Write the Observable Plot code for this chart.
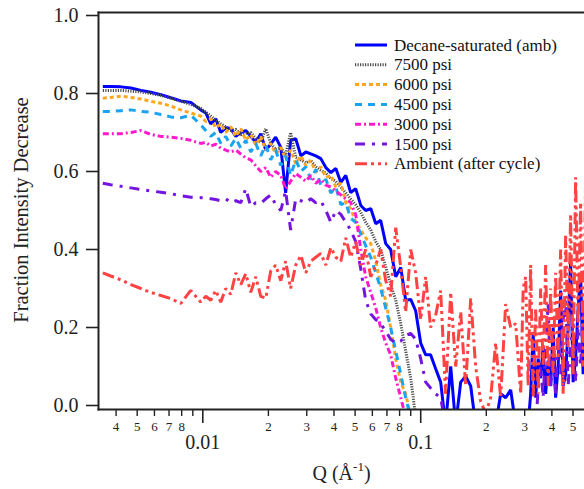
<!DOCTYPE html>
<html><head><meta charset="utf-8">
<script src="https://cdn.jsdelivr.net/npm/d3@7"></script>
<script src="https://cdn.jsdelivr.net/npm/@observablehq/plot@0.6"></script>
<style>body{margin:0;background:#fff}#chart{width:584px;height:489px}
#chart svg, #chart svg text{font-family:'Liberation Serif','Times New Roman',serif !important}</style>
</head><body><div id="chart"></div>
<script>
// Q grid (Å^-1)
const q = [
0.003477,0.00378,0.00421,0.00468,0.00520,0.00577,0.00642,0.00713,0.00793,0.00881,0.00979,
0.01032,0.01088,0.01147,0.01209,0.01275,0.01344,0.01417,0.01494,0.01575,0.0166,
0.0175,0.01845,0.01945,0.0205,0.0216,0.0228,0.0240,0.0253,0.0267,0.0282,
0.0297,0.0313,0.0330,0.0348,0.0367,0.0387,0.0408,0.0430,0.0453,0.0477,
0.0503,0.0531,0.0559,0.0590,0.0622,0.0655,0.0691,0.0728,0.0768,0.0810,
0.0853,0.0900,0.0948,0.1000,
0.1054,0.111,0.117,0.1235,0.130,0.1373,0.1447,0.1526,0.1608,0.1696,
0.1787,0.1885,0.1987,0.2095,0.2208,0.2328,0.2454,0.2588,0.2728,0.2876,
0.2953,0.3032,0.3113,0.3196,0.3282,0.3369,0.3459,0.3552,0.3647,0.3744,
0.3844,0.3947,0.4053,0.4161,0.4272,0.4387,0.4504,0.4625,0.4748,0.4875,
0.5006,0.514,0.5277,0.5418,0.5563,0.571];

const decane = [
.818,.818,.817,.814,.808,.803,.797,.789,.781,.777,.758,
.750,.722,.735,.700,.712,.710,.690,.700,.705,.690,
.675,.697,.655,.670,.688,.662,.545,.680,.684,.640,
.650,.645,.640,.633,.610,.597,.608,.572,.590,.546,
.556,.513,.500,.505,.466,.475,.415,.400,.330,.354,
.270,.272,.243,.160,
.13,.13,.095,.06,-.05,.10,-.05,.06,.075,.05,
-.05,-.05,-.05,-.05,-.05,.03,.02,.04,-.05,-.05,
-.05,-.05,-.05,.03,.185,.02,.12,.07,.15,.03,
.115,.05,.20,.02,.10,.295,.05,.08,.20,.37,
.06,.12,.25,.34,.08,.30];

const p7500 = [
.808,.808,.808,.806,.804,.800,.795,.788,.780,.772,.762,
.752,.742,.732,.722,.715,.705,.708,.695,.698,.700,
.685,.675,.710,.672,.656,.660,.642,.700,.636,.630,
.622,.628,.612,.603,.596,.582,.575,.560,.545,.530,
.515,.495,.470,.450,.420,.400,.355,.310,.270,.210,
.140,.070,-.030,-.060];

const p6000 = [
.788,.790,.793,.790,.786,.780,.775,.768,.758,.750,.742,
.728,.735,.712,.722,.700,.715,.690,.710,.680,.695,
.668,.690,.655,.672,.645,.662,.632,.655,.620,.640,
.615,.628,.598,.612,.585,.590,.560,.570,.520,.505,
.470,.450,.430,.415,.370,.310,.270,.200,.120,.060,
.030,-.030,-.050,-.060];

const p4500 = [
.754,.754,.756,.758,.754,.752,.746,.740,.738,.744,.720,
.705,.690,.700,.672,.690,.665,.685,.660,.680,.650,
.672,.640,.668,.630,.655,.615,.640,.590,.630,.600,
.612,.580,.605,.565,.580,.545,.560,.515,.520,.480,
.470,.440,.410,.380,.340,.300,.250,.200,.140,.080,
.020,-.030,-.050,-.060];

const p3000 = [
.697,.697,.697,.700,.705,.695,.690,.688,.685,.680,.672,
.675,.665,.670,.660,.655,.650,.655,.645,.635,.630,
.615,.600,.610,.585,.600,.590,.555,.575,.595,.585,
.575,.590,.570,.580,.565,.560,.550,.540,.530,.520,
.490,.400,.330,.290,.250,.200,.160,.130,.070,.020,
-.030,-.050,-.050,-.060];

const p1500 = [
.570,.566,.562,.558,.554,.550,.547,.543,.538,.534,.533,
.532,.530,.528,.525,.530,.520,.525,.520,.556,.510,
.520,.518,.530,.540,.515,.500,.550,.450,.530,.525,
.520,.530,.520,.525,.500,.470,.500,.490,.470,.450,
.420,.350,.270,.235,.220,.210,.190,.170,.160,.165,
.180,.185,.170,.120,
.060,.045,.030,.020,-.05,-.05,-.05,-.05,-.05,-.05,
-.05,-.05,-.05,-.05,-.05,-.05,-.05,-.05,-.05,-.05,
-.05,-.05,-.05,-.05,-.05,-.05,.04,.10,.02,.15,
.26,.05,.12,.03,.18,.08,.22,.27,.05,.15,
.21,.06,.20,.10,.25,.12];

const ambient = [
.340,.332,.322,.310,.300,.290,.282,.274,.262,.295,.265,
.280,.270,.295,.265,.300,.285,.340,.310,.338,.290,
.330,.280,.275,.345,.360,.320,.370,.300,.360,.385,
.340,.370,.380,.390,.360,.405,.380,.370,.430,.380,
.420,.360,.400,.330,.360,.400,.320,.280,.456,.354,
.240,.400,.340,.220,
.330,.200,.230,.295,.030,.290,.100,.240,.050,.275,
.100,.010,-.020,.020,.160,.020,.260,.200,.210,.030,
.300,.330,.050,.360,.020,.250,.030,.300,.100,.360,
.050,.300,.080,.340,.120,.400,.030,.440,.150,.490,
.080,.585,.200,.520,.100,.580];

const seriesNames = ["Decane-saturated (amb)","7500 psi","6000 psi","4500 psi","3000 psi","1500 psi","Ambient (after cycle)"];
const seriesValues = [decane,p7500,p6000,p4500,p3000,p1500,ambient];
const colors = ["#0000ff","#4d4d4d","#ffa520","#1aa3f0","#ff19cc","#7414e0","#ff4242"];
const dashes = ["none","1.2,1.3","4,3","7,6","6,3,2,3","10,7,3,7","12,4,3,4,3,4"];

const yTicks = [0,0.2,0.4,0.6,0.8,1.0];
const xMajorTicks = [0.01,0.1];
const xMajorLabels = ["0.01","0.1"];
const xMinorTicks = [0.004,0.005,0.006,0.007,0.008,0.009,0.02,0.03,0.04,0.05,0.06,0.07,0.08,0.09,0.2,0.3,0.4,0.5];
const xMinorLabels = ["4","5","6","7","8","","2","3","4","5","6","7","8","","2","3","4","5"];
const xDomain = [0.003322,0.5645];

const W=584,H=489,mL=98,mR=0,mT=12,mB=80;
const font = "'Liberation Serif', 'Times New Roman', serif";

const lineMarks = seriesNames.map((name,i)=>{
  const d = seriesValues[i].map((v,j)=>({q:q[j],v}));
  return Plot.line(d,{x:"q",y:"v",stroke:colors[i],strokeWidth:3,
    strokeDasharray:dashes[i]==="none"?undefined:dashes[i],clip:true,strokeLinejoin:"miter",strokeLinecap:"butt"});
});

const minorData = xMinorTicks.map((t,i)=>({t,label:xMinorLabels[i]}));
const majorData = xMajorTicks.map((t,i)=>({t,label:xMajorLabels[i]}));

const svg = Plot.plot({
  width:W,height:H,marginLeft:mL,marginRight:mR,marginTop:mT,marginBottom:mB,
  style:{fontFamily:font,color:"#222",background:"#fff"},
  x:{type:"log",domain:xDomain,label:null},
  y:{domain:[0,1],range:[405,15],label:null},
  marks:[
    ...lineMarks,
    Plot.axisY(yTicks,{tickSize:12,tickPadding:8,tickFormat:d3.format(".1f"),fontSize:20,fontFamily:font,strokeWidth:1.6,label:null}),
    Plot.axisX(xMinorTicks,{tickSize:7,tickFormat:()=>"",strokeWidth:1.4,label:null}),
    Plot.axisX(xMajorTicks,{tickSize:14,tickFormat:()=>"",strokeWidth:1.6,label:null}),
    Plot.text(minorData,{x:"t",text:"label",frameAnchor:"bottom",lineAnchor:"middle",dy:17.3,fontSize:13,fontFamily:font,fill:"#222"}),
    Plot.text(majorData,{x:"t",text:"label",frameAnchor:"bottom",lineAnchor:"middle",dy:32.6,fontSize:20,fontFamily:font,fill:"#222"}),
    Plot.frame({anchor:"left",strokeWidth:2,stroke:"#222"}),
    Plot.frame({anchor:"top",strokeWidth:2,stroke:"#222"}),
    Plot.frame({anchor:"bottom",strokeWidth:2,stroke:"#222"})
  ]
});
document.getElementById("chart").appendChild(svg);

const s = d3.select(svg);
// y label
s.append("text").attr("transform","translate(27.5,210) rotate(-90)")
 .attr("text-anchor","middle").attr("font-family",font).attr("font-size",20.5).attr("fill","#222")
 .text("Fraction Intensity Decrease");
// x label
const xl = s.append("text").attr("x",312.5).attr("y",480).attr("text-anchor","start")
 .attr("font-family",font).attr("font-size",20).attr("fill","#222");
xl.append("tspan").text("Q (Å");
xl.append("tspan").attr("font-size",13).attr("dy",-9).text("-1");
xl.append("tspan").attr("dy",9).text(")");
// legend
const lg = s.append("g");
seriesNames.forEach((name,i)=>{
  const yy = 45 + 19.8*i;
  lg.append("line").attr("x1",355).attr("x2",387).attr("y1",yy).attr("y2",yy)
    .attr("stroke",colors[i]).attr("stroke-width",3).attr("stroke-dasharray",dashes[i]);
  lg.append("text").attr("x",394).attr("y",yy).attr("dy","0.33em").attr("text-anchor","start")
    .attr("font-family",font).attr("font-size",17).attr("fill","#111").text(name);
});
</script></body></html>
